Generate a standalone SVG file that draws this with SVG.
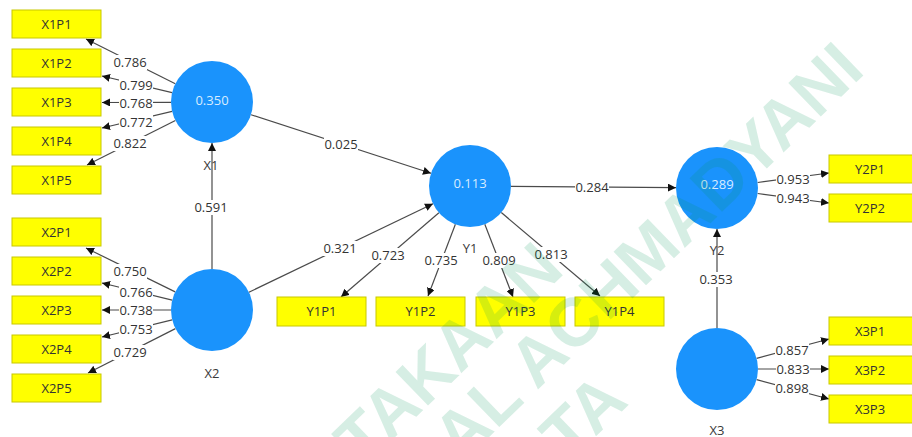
<svg xmlns="http://www.w3.org/2000/svg" width="912" height="437" viewBox="0 0 912 437">
  <style>
    .lat { fill: #1a93fc; }
    .val { fill: #d8ecff; font: 13px "Open Sans", "Noto Sans", sans-serif; text-anchor: middle; }
    .name { fill: #3a3a3a; font: 13px "Open Sans", "Noto Sans", sans-serif; text-anchor: middle; }
    .ind rect { fill: #ffff00; stroke: #c8c800; stroke-width: 1; }
    .ind text { fill: #333333; font: 13px "Open Sans", "Noto Sans", sans-serif; text-anchor: middle; }
    .edge { stroke: #4a4a4a; stroke-width: 1.2; fill: none; marker-end: url(#arrow); }
    .lbl rect { fill: #ffffff; }
    .lbl text { fill: #333333; font: 13px "Open Sans", "Noto Sans", sans-serif; text-anchor: middle; }
    .wm { fill: #00965a; fill-opacity: 0.16; font: bold 68px "Liberation Sans", Arial, sans-serif; text-anchor: end; }
  </style>
  <defs>
    <marker id="arrow" viewBox="0 0 10 10" refX="10" refY="5" markerWidth="8" markerHeight="8" markerUnits="userSpaceOnUse" orient="auto">
      <path d="M0,0 L10,5 L0,10 z" fill="#111111"/>
    </marker>
  </defs>

  <rect width="912" height="437" fill="#ffffff"/>

  <!-- connectors -->
  <g id="connectors">
    <!-- X1 loadings -->
    <line class="edge" x1="175.3" y1="83.7" x2="86" y2="39"/>
    <line class="edge" x1="172.1" y1="92.6" x2="102" y2="76"/>
    <line class="edge" x1="171" y1="102.3" x2="102" y2="102.5"/>
    <line class="edge" x1="172.1" y1="111.4" x2="102" y2="128"/>
    <line class="edge" x1="175.4" y1="120.5" x2="87" y2="165"/>
    <!-- X2 loadings -->
    <line class="edge" x1="175.2" y1="291.9" x2="86" y2="248"/>
    <line class="edge" x1="172.2" y1="300.2" x2="102" y2="283"/>
    <line class="edge" x1="171" y1="310" x2="102" y2="310"/>
    <line class="edge" x1="172.2" y1="319.8" x2="102" y2="337"/>
    <line class="edge" x1="175.4" y1="328.6" x2="88" y2="373"/>
    <!-- paths -->
    <line class="edge" x1="212" y1="269" x2="212" y2="143"/>
    <line class="edge" x1="251" y1="114.7" x2="431" y2="173.3"/>
    <line class="edge" x1="248.9" y1="292.2" x2="433" y2="203.8"/>
    <line class="edge" x1="511" y1="186.3" x2="676" y2="187.7"/>
    <line class="edge" x1="717" y1="328" x2="717" y2="229"/>
    <!-- Y1 loadings -->
    <line class="edge" x1="438.9" y1="212.7" x2="341" y2="297"/>
    <line class="edge" x1="455.4" y1="224.3" x2="428" y2="296"/>
    <line class="edge" x1="484.8" y1="224.3" x2="513" y2="297"/>
    <line class="edge" x1="501.3" y1="212.5" x2="600" y2="296"/>
    <!-- Y2 loadings -->
    <line class="edge" x1="757.6" y1="182.5" x2="829" y2="173"/>
    <line class="edge" x1="757.6" y1="193.5" x2="829" y2="203"/>
    <!-- X3 loadings -->
    <line class="edge" x1="756.6" y1="358.4" x2="829" y2="339"/>
    <line class="edge" x1="758" y1="369" x2="829" y2="369"/>
    <line class="edge" x1="756.6" y1="379.6" x2="829" y2="399"/>

    <!-- coefficient labels -->
    <g class="lbl"><rect x="113" y="55" width="34" height="15"/><text x="130" y="66.7">0.786</text></g>
    <g class="lbl"><rect x="119" y="78" width="34" height="15"/><text x="136" y="89.7">0.799</text></g>
    <g class="lbl"><rect x="119" y="96" width="34" height="15"/><text x="136" y="107.7">0.768</text></g>
    <g class="lbl"><rect x="119" y="115" width="34" height="15"/><text x="136" y="126.7">0.772</text></g>
    <g class="lbl"><rect x="113" y="136" width="34" height="15"/><text x="130" y="147.7">0.822</text></g>

    <g class="lbl"><rect x="113" y="264" width="34" height="15"/><text x="130" y="275.7">0.750</text></g>
    <g class="lbl"><rect x="119" y="285" width="34" height="15"/><text x="136" y="296.7">0.766</text></g>
    <g class="lbl"><rect x="119" y="303" width="34" height="15"/><text x="136" y="314.7">0.738</text></g>
    <g class="lbl"><rect x="119" y="322" width="34" height="15"/><text x="136" y="333.7">0.753</text></g>
    <g class="lbl"><rect x="113" y="345" width="34" height="15"/><text x="130" y="356.7">0.729</text></g>

    <g class="lbl"><rect x="194" y="200" width="34" height="15"/><text x="211" y="211.7">0.591</text></g>
    <g class="lbl"><rect x="324" y="137" width="34" height="15"/><text x="341" y="148.7">0.025</text></g>
    <g class="lbl"><rect x="323" y="241" width="34" height="15"/><text x="340" y="252.7">0.321</text></g>
    <g class="lbl"><rect x="575" y="180" width="34" height="15"/><text x="592" y="191.7">0.284</text></g>
    <g class="lbl"><rect x="699" y="272" width="34" height="15"/><text x="716" y="283.7">0.353</text></g>

    <g class="lbl"><rect x="371" y="248" width="34" height="15"/><text x="388" y="259.7">0.723</text></g>
    <g class="lbl"><rect x="424" y="253" width="34" height="15"/><text x="441" y="264.7">0.735</text></g>
    <g class="lbl"><rect x="482" y="253" width="34" height="15"/><text x="499" y="264.7">0.809</text></g>
    <g class="lbl"><rect x="534" y="247" width="34" height="15"/><text x="551" y="258.7">0.813</text></g>

    <g class="lbl"><rect x="776" y="172" width="34" height="15"/><text x="793" y="183.7">0.953</text></g>
    <g class="lbl"><rect x="776" y="191" width="34" height="15"/><text x="793" y="202.7">0.943</text></g>
    <g class="lbl"><rect x="775" y="343" width="34" height="15"/><text x="792" y="354.7">0.857</text></g>
    <g class="lbl"><rect x="776" y="362" width="34" height="15"/><text x="793" y="373.7">0.833</text></g>
    <g class="lbl"><rect x="775" y="381" width="34" height="15"/><text x="792" y="392.7">0.898</text></g>
  </g>

  <!-- latent variables -->
  <g id="X1"><circle class="lat" cx="212" cy="102" r="41"/><text class="val" x="212" y="104.5">0.350</text><text class="name" x="211" y="170">X1</text></g>
  <g id="X2"><circle class="lat" cx="212" cy="310" r="41"/><text class="name" x="212" y="378">X2</text></g>
  <g id="Y1"><circle class="lat" cx="470" cy="186" r="41"/><text class="val" x="470" y="187.5">0.113</text><text class="name" x="470" y="253">Y1</text></g>
  <g id="Y2"><circle class="lat" cx="717" cy="188" r="41"/><text class="val" x="717" y="188.5">0.289</text><text class="name" x="717" y="255">Y2</text></g>
  <g id="X3"><circle class="lat" cx="717" cy="369" r="41"/><text class="name" x="717" y="435">X3</text></g>

  <!-- indicators -->
  <g id="X1P1" class="ind"><rect x="12" y="10" width="89" height="28"/><text x="56.5" y="28.7">X1P1</text></g>
  <g id="X1P2" class="ind"><rect x="12" y="49" width="89" height="28"/><text x="56.5" y="67.7">X1P2</text></g>
  <g id="X1P3" class="ind"><rect x="12" y="88" width="89" height="28"/><text x="56.5" y="106.7">X1P3</text></g>
  <g id="X1P4" class="ind"><rect x="12" y="127" width="89" height="28"/><text x="56.5" y="145.7">X1P4</text></g>
  <g id="X1P5" class="ind"><rect x="12" y="166" width="89" height="28"/><text x="56.5" y="184.7">X1P5</text></g>

  <g id="X2P1" class="ind"><rect x="12" y="218" width="89" height="28"/><text x="56.5" y="236.7">X2P1</text></g>
  <g id="X2P2" class="ind"><rect x="12" y="257" width="89" height="28"/><text x="56.5" y="275.7">X2P2</text></g>
  <g id="X2P3" class="ind"><rect x="12" y="296" width="89" height="28"/><text x="56.5" y="314.7">X2P3</text></g>
  <g id="X2P4" class="ind"><rect x="12" y="335" width="89" height="28"/><text x="56.5" y="353.7">X2P4</text></g>
  <g id="X2P5" class="ind"><rect x="12" y="374" width="89" height="28"/><text x="56.5" y="392.7">X2P5</text></g>

  <g id="Y1P1" class="ind"><rect x="277" y="297" width="89" height="29"/><text x="321.5" y="316.2">Y1P1</text></g>
  <g id="Y1P2" class="ind"><rect x="376" y="297" width="89" height="29"/><text x="420.5" y="316.2">Y1P2</text></g>
  <g id="Y1P3" class="ind"><rect x="476" y="297" width="89" height="29"/><text x="520.5" y="316.2">Y1P3</text></g>
  <g id="Y1P4" class="ind"><rect x="575" y="297" width="89" height="29"/><text x="619.5" y="316.2">Y1P4</text></g>

  <g id="Y2P1" class="ind"><rect x="829" y="155" width="89" height="28"/><text x="870" y="173.7">Y2P1</text></g>
  <g id="Y2P2" class="ind"><rect x="829" y="194" width="89" height="28"/><text x="870" y="212.7">Y2P2</text></g>

  <g id="X3P1" class="ind"><rect x="829" y="317" width="89" height="28"/><text x="870" y="335.7">X3P1</text></g>
  <g id="X3P2" class="ind"><rect x="829" y="356" width="89" height="28"/><text x="870" y="374.7">X3P2</text></g>
  <g id="X3P3" class="ind"><rect x="829" y="395" width="89" height="28"/><text x="870" y="413.7">X3P3</text></g>

  <!-- library watermark across the page -->
  <g id="watermark" transform="rotate(-44)">
    <text class="wm" x="218" y="589">TAKAAN</text>
    <text class="wm" x="573" y="654">AL ACHMADYANI</text>
    <text class="wm" x="173" y="728">TA</text>
  </g>
</svg>
